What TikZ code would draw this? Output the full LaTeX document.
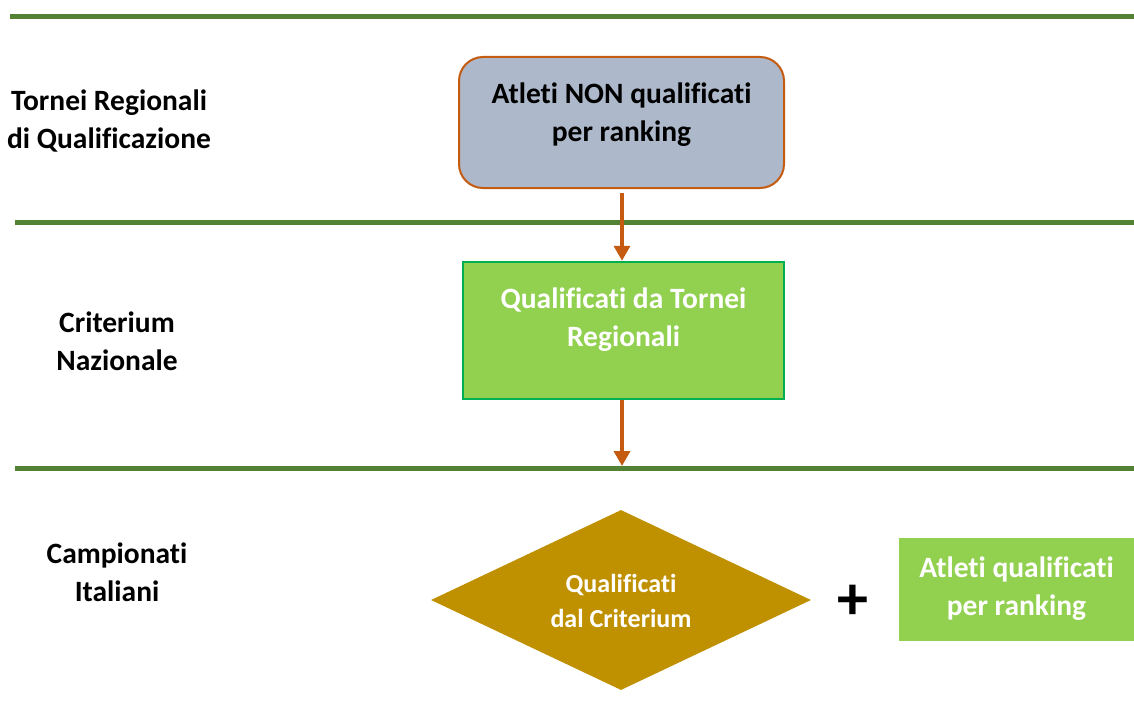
\documentclass[tikz,border=0pt]{standalone}
\usepackage{fontspec}
\setmainfont{Carlito}[Ligatures=NoCommon]
\usetikzlibrary{arrows.meta,shapes.geometric}
\definecolor{lanegreen}{HTML}{548235}
\definecolor{orangeline}{HTML}{C55A11}
\definecolor{greyblue}{HTML}{ADB9CA}
\definecolor{lightgreen}{HTML}{92D050}
\definecolor{darkgreen}{HTML}{00B050}
\definecolor{gold}{HTML}{BF9000}
\tikzset{
  lane/.style={draw=lanegreen, line width=5pt},
  lbl/.style={align=center, font=\fontsize{29.5}{38}\selectfont\bfseries, text=black, inner sep=0pt},
  boxtext/.style={align=center, font=\fontsize{29.5}{38}\selectfont\bfseries, inner sep=0pt},
  flow/.style={draw=orangeline, line width=3.5pt, -{Triangle[width=16pt,length=15pt]}},
}
\begin{document}
\begin{tikzpicture}[x=1pt,y=-1pt]
\useasboundingbox (0,0) rectangle (1134,706);
% lanes
\coordinate (l1a) at (10,17); \coordinate (l1b) at (1134,17);
\coordinate (l2a) at (15,222); \coordinate (l2b) at (1134,222);
\coordinate (l3a) at (15,468); \coordinate (l3b) at (1134,468);
\draw[lane] (l1a) -- (l1b);
\draw[lane] (l2a) -- (l2b);
\draw[lane] (l3a) -- (l3b);
% left labels
\node[lbl] (t1) at (109,121) {Tornei Regionali\\di Qualificazione};
\node[lbl] (t2) at (117,341) {Criterium\\Nazionale};
\node[lbl] (t3) at (117,572) {Campionati\\Italiani};
% top box
\node[draw=orangeline, line width=2pt, fill=greyblue, rounded corners=24pt,
      minimum width=325pt, minimum height=131pt, inner sep=0pt] (b1) at (621.5,122.5) {};
\node[boxtext, text=black] (b1t) at (621.5,115) {Atleti NON qualificati\\per ranking};
% green box
\node[draw=darkgreen, line width=2.5pt, fill=lightgreen,
      minimum width=321pt, minimum height=137pt, inner sep=0pt] (b2) at (623.5,330.5) {};
\node[boxtext, text=white] (b2t) at (623.5,320) {Qualificati da Tornei\\Regionali};
% diamond
\node[diamond, fill=gold, minimum width=380pt, minimum height=180pt, inner sep=0pt, aspect=2.1] (d) at (621,600) {};
\node[align=center, font=\fontsize{26}{35}\selectfont\bfseries, text=white, inner sep=0pt] (dt) at (621,601) {Qualificati\\dal Criterium};
% plus
\node[font=\fontsize{62}{62}\selectfont\bfseries, inner sep=0pt] (plus) at (853,602) {+};
% right box
\node[fill=lightgreen, minimum width=235pt, minimum height=103pt, inner sep=0pt] (b3) at (1016.5,589.5) {};
\node[boxtext, text=white] (b3t) at (1016.5,589) {Atleti qualificati\\per ranking};
% arrows
\coordinate (a2end) at (622,466);
\draw[flow] ([yshift=-4pt]b1.south -| 622,0) -- (b2.north -| 622,0);
\draw[flow] (b2.south -| 622,0) -- (a2end);
\end{tikzpicture}
\end{document}
